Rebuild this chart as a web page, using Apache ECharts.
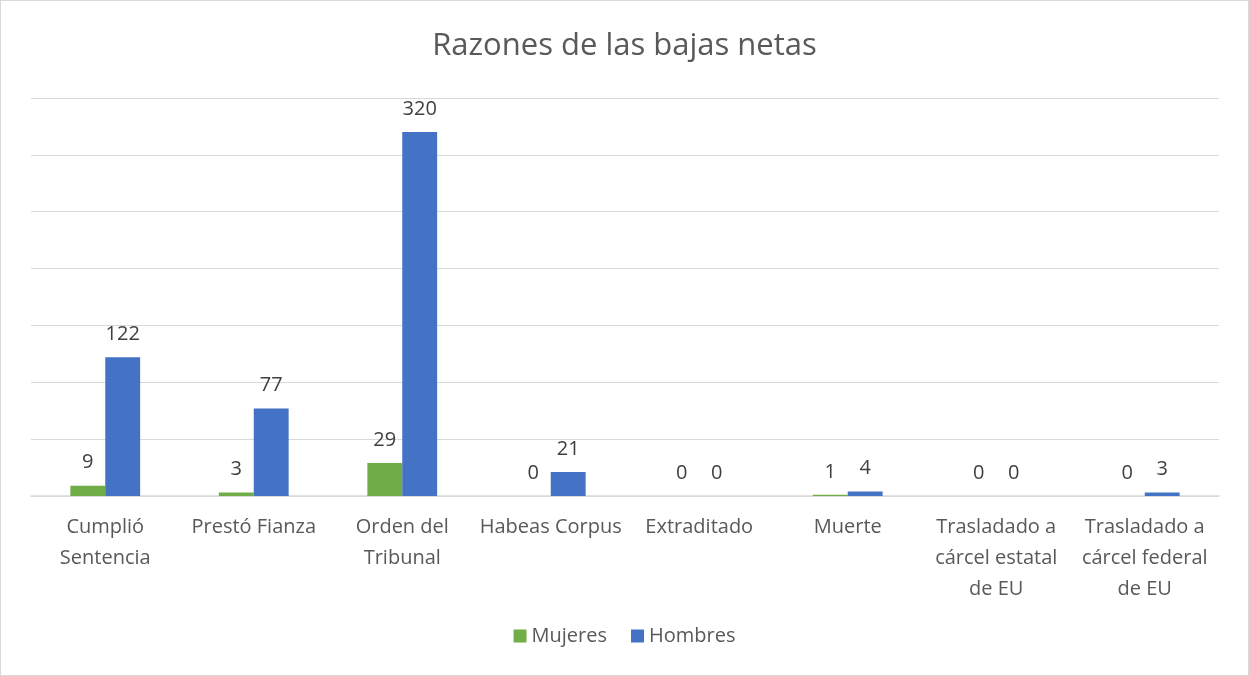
<!DOCTYPE html>
<html>
<head>
<meta charset="utf-8">
<script src="https://cdn.jsdelivr.net/npm/echarts@6/dist/echarts.min.js"></script>
<style>
  html, body { margin: 0; padding: 0; background: #fff; }
  #main { width: 1249px; height: 676px; box-sizing: border-box; border: 1px solid #d9d9d9; }
</style>
</head>
<body>
<div id="main"></div>
<script>
var categories = ['Cumplió\nSentencia', 'Prestó Fianza', 'Orden del\nTribunal', 'Habeas Corpus',
    'Extraditado', 'Muerte', 'Trasladado a\ncárcel estatal\nde EU', 'Trasladado a\ncárcel federal\nde EU'];
var mujeres = [9, 3, 29, 0, 0, 1, 0, 0];
var hombres = [122, 77, 320, 21, 0, 4, 0, 3];

var font = '"Open Sans", "Noto Sans", sans-serif';

var myChart = echarts.init(document.getElementById('main'));
var option = {
    animation: false,
    title: {
        text: 'Razones de las bajas netas',
        left: 'center',
        top: 25,
        textStyle: { fontFamily: font, fontSize: 31, fontWeight: 'normal', color: '#595959' }
    },
    legend: {
        bottom: 24,
        left: 'center',
        itemWidth: 13,
        itemHeight: 13,
        itemGap: 24,
        icon: 'rect',
        textStyle: { fontFamily: font, fontSize: 20, color: '#595959' },
        data: ['Mujeres', 'Hombres']
    },
    grid: { left: 30, right: 29, top: 97, bottom: 179 },
    xAxis: {
        type: 'category',
        data: categories,
        axisLine: { lineStyle: { color: '#d9d9d9', width: 1.5 } },
        axisTick: { show: false },
        axisLabel: {
            interval: 0,
            margin: 16,
            lineHeight: 31,
            fontFamily: font,
            fontSize: 20,
            color: '#595959'
        }
    },
    yAxis: {
        type: 'value',
        min: 0,
        max: 350,
        interval: 50,
        axisLabel: { show: false },
        axisLine: { show: false },
        axisTick: { show: false },
        splitLine: { lineStyle: { color: '#d9d9d9', width: 1 } }
    },
    series: [
        {
            name: 'Mujeres',
            type: 'bar',
            data: mujeres,
            barGap: '0%',
            barCategoryGap: '53%',
            itemStyle: { color: '#70ad47' },
            label: { show: true, position: 'top', distance: 13, fontFamily: font, fontSize: 20, color: '#404040' }
        },
        {
            name: 'Hombres',
            type: 'bar',
            data: hombres,
            barGap: '0%',
            barCategoryGap: '53%',
            itemStyle: { color: '#4472c4' },
            label: { show: true, position: 'top', distance: 13, fontFamily: font, fontSize: 20, color: '#404040' }
        }
    ]
};
myChart.setOption(option);
</script>
</body>
</html>
